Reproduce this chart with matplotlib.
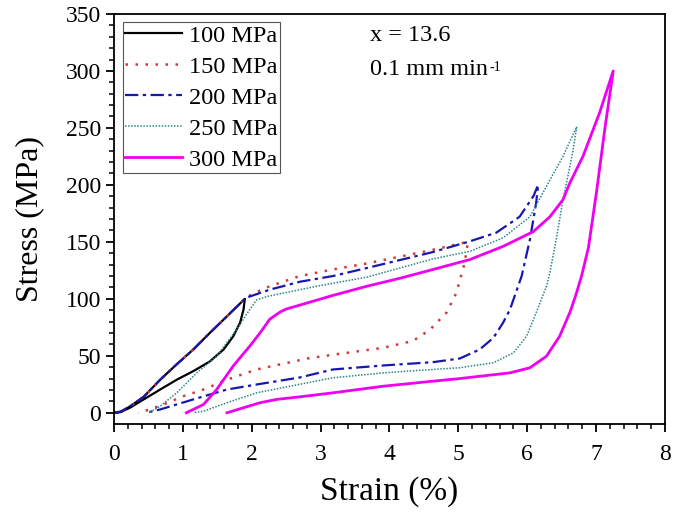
import numpy as np
import matplotlib.pyplot as plt

plt.rcParams['font.family'] = ['Liberation Serif', 'DejaVu Serif']

# shared first loading branch (100/150/200 MPa cycles)
load0_strain = [0, 0.1, 0.23, 0.43, 0.67, 0.9, 1.15, 1.39, 1.64, 1.9]
load0_stress = [0, 1, 5.5, 14, 29, 42, 55.5, 70, 84.7, 100]

# 100 MPa unloading
s100_strain = [1.88, 1.83, 1.73, 1.59, 1.39, 1.15, 0.91, 0.67, 0.43, 0.23, 0.09, 0]
s100_stress = [90.6, 79, 67, 55.5, 45, 36.5, 29, 20.4, 11.7, 4.4, 0.5, 0]

# 150 MPa continued loading + unloading
s150_strain = [2.0, 2.26, 2.7, 3.2, 3.67, 4.15, 4.63, 5.14,
               5.09, 4.97, 4.83, 4.59, 4.34, 3.91, 3.43, 2.84, 2.07, 1.64,
               1.30, 1.01, 0.72, 0.52, 0.35]
s150_stress = [104, 111, 120, 126, 131, 137, 143, 150,
               131, 105, 88, 73, 63, 57, 53, 48, 38, 29,
               20.4, 14.6, 7.3, 2.9, 0]

# 200 MPa continued loading + unloading
s200_strain = [1.97, 2.26, 2.7, 3.18, 3.67, 4.15, 4.63, 5.17, 5.55, 5.89, 6.09, 6.16,
               6.13, 6.04, 5.92, 5.75, 5.65, 5.51, 5.31, 5.02, 4.63, 3.91, 3.18,
               2.70, 2.07, 1.64, 1.15, 0.67, 0.47]
s200_stress = [102, 108, 115, 120, 127, 134, 141, 150.5, 158, 172, 190, 200,
               184, 152, 120, 90.6, 79, 65.8, 55.5, 47.6, 44.4, 41.5, 38,
               31, 24.8, 20.4, 11.7, 2.9, 0]

# 250 MPa full cycle
s250_strain = [0.52, 0.67, 0.91, 1.2, 1.49, 1.78, 1.97, 2.07, 2.22, 2.46, 2.94, 3.67, 4.63,
               5.17, 5.65, 6.04, 6.28, 6.52, 6.72,
               6.66, 6.52, 6.43, 6.33, 6.28, 6.13, 5.99, 5.80, 5.51, 5.02, 4.63, 3.91,
               3.18, 2.70, 2.07, 1.64, 1.30, 1.15]
s250_stress = [0.5, 5.8, 17.5, 35, 49.6, 73, 90.6, 99, 102, 105, 111, 119, 135,
               141.7, 153.5, 172, 198.7, 225, 251,
               228, 187, 155, 123, 111, 87.7, 67, 52.6, 43.9, 39.5, 38, 35,
               30.7, 25, 17.5, 8.8, 1.4, 0]

# 300 MPa full cycle
s300_strain = [1.05, 1.30, 1.49, 1.73, 1.97, 2.12, 2.26, 2.4, 2.5, 2.84, 3.18, 3.67, 4.15,
               4.63, 5.17, 5.65, 6.09, 6.33, 6.52, 6.62, 6.81, 7.05, 7.25,
               7.13, 7.01, 6.89, 6.79, 6.70, 6.62, 6.47, 6.28, 6.04, 5.75, 5.31,
               5.02, 4.63, 3.91, 3.18, 2.7, 2.36, 2.12, 1.88, 1.64]
s300_stress = [0, 7.3, 20.4, 41, 58.4, 70, 82, 88, 91, 97, 103, 111, 118,
               125.7, 134.5, 146, 159, 172, 187, 201.7, 225, 263, 300,
               250, 195, 145, 120, 102, 88, 67, 49.6, 39.5, 35, 32,
               30, 27.7, 23.3, 17.5, 14, 11.7, 8.8, 4.4, 0]

fig, ax = plt.subplots(figsize=(6.75, 5.16), dpi=100)
fig.subplots_adjust(left=0.169, right=0.985, bottom=0.178, top=0.973)

ax.plot(load0_strain + s100_strain, load0_stress + s100_stress,
        color='black', lw=1.6, label='100 MPa')
ax.plot(load0_strain + s150_strain, load0_stress + s150_stress,
        color='#d03a3a', lw=1.8, ls=(0, (1, 3)), label='150 MPa')
ax.plot(load0_strain + s200_strain, load0_stress + s200_stress,
        color='#1818b0', lw=1.6, ls=(0, (6, 2, 1.5, 2)), label='200 MPa')
ax.plot(s250_strain, s250_stress,
        color='#2a8585', lw=1.1, ls=(0, (1, 1)), label='250 MPa')
ax.plot(s300_strain, s300_stress,
        color='#f000f0', lw=2.0, label='300 MPa')

ax.set_xlim(0, 8)
ax.set_ylim(-10, 350)
ax.set_xticks(np.arange(0, 9, 1))
ax.set_yticks(np.arange(0, 351, 50))
ax.set_xticks(np.arange(0, 8.01, 0.2), minor=True)
ax.set_yticks(np.arange(0, 351, 10), minor=True)
ax.tick_params(which='both', direction='out', top=False, right=False, labelsize=17)
ax.tick_params(axis='x', which='major', pad=8)
ax.tick_params(which='major', length=6, width=1.3)
ax.tick_params(which='minor', length=3.5, width=1.1)
for sp in ax.spines.values():
    sp.set_linewidth(1.3)

ax.set_xlabel('Strain (%)', fontsize=24, labelpad=8)
ax.set_ylabel('Stress (MPa)', fontsize=23, labelpad=15)

ax.text(3.72, 331, 'x = 13.6', fontsize=17.5, va='center')
t2 = ax.text(3.72, 301, '0.1 mm min', fontsize=17.5, va='center')
ax.annotate('-1', xy=(1, 1), xycoords=t2, xytext=(1, -1), textcoords='offset points',
            ha='left', va='top', fontsize=10)

leg = ax.legend(loc='upper left', bbox_to_anchor=(0.016, 0.98), fontsize=17.5,
                handlelength=2.35, handletextpad=0.25, labelspacing=0.37,
                borderpad=0.1, borderaxespad=0, fancybox=False, framealpha=1)
leg.get_frame().set_edgecolor('#555555')
leg.get_frame().set_linewidth(0.8)

plt.savefig('out.png', dpi=100)
